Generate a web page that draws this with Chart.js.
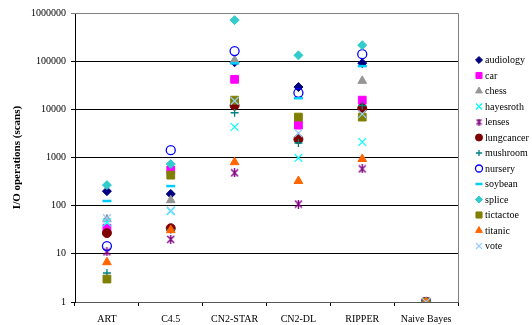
<!DOCTYPE html>
<html>
<head>
<meta charset="utf-8">
<script src="https://cdn.jsdelivr.net/npm/chart.js@4/dist/chart.umd.min.js"></script>
<style>
  html, body { margin: 0; background: #fff; }
</style>
</head>
<body>
<canvas id="scanChart" width="532" height="325"></canvas>
<script>
// I/O cost (number of scans) per algorithm and dataset
const algorithms = ['ART', 'C4.5', 'CN2-STAR', 'CN2-DL', 'RIPPER', 'Naive Bayes'];
const yTicks = [1, 10, 100, 1000, 10000, 100000, 1000000];

const audiology  = [200, 175, 95000, 29000, 91000, 1];
const car        = [34, 550, 42000, 4700, 15500, 1];
const chess      = [52, 130, 105000, 2600, 39000, 1];
const hayesroth  = [45, 77, 4300, 980, 2100, 1];
const lenses     = [11, 20, 480, 108, 580, 1];
const lungcancer = [27, 34, 12000, 2400, 10500, 1];
const mushroom   = [4, 32, 8500, 2000, 12000, 1];
const nursery    = [14.5, 1420, 162000, 22000, 140000, 1];
const soybean    = [125, 255, 90000, 17000, 79000, 1];
const splice     = [267, 730, 710000, 132000, 215000, 1];
const tictactoe  = [3, 430, 15500, 6900, 6900, 1];
const titanic    = [6.7, 31, 800, 325, 930, 1];
const vote       = [55, 80, 15000, 3200, 8000, 1];

// asterisk marker: an X with a vertical stroke
function asterisk(size, color) {
  const c = document.createElement('canvas');
  c.width = size;
  c.height = size;
  const g = c.getContext('2d');
  const m = 1, e = size - 1, h = size / 2;
  g.strokeStyle = color;
  g.lineWidth = 1.4;
  g.beginPath();
  g.moveTo(m, m); g.lineTo(e, e);
  g.moveTo(e, m); g.lineTo(m, e);
  g.moveTo(h, 0); g.lineTo(h, size);
  g.stroke();
  return c;
}

const series = [
  { label: 'audiology',  data: audiology,  color: '#000080', style: 'rectRot',  r: 4.5 },
  { label: 'car',        data: car,        color: '#FF00FF', style: 'rect',     r: 5.5 },
  { label: 'chess',      data: chess,      color: '#969696', style: 'triangle', r: 5 },
  { label: 'hayesroth',  data: hayesroth,  color: '#00FFFF', style: 'crossRot', r: 5.5, bw: 1.2 },
  { label: 'lenses',     data: lenses,     color: '#800080', style: asterisk(9, '#800080'), legendStyle: asterisk(7, '#800080'), r: 4.5 },
  { label: 'lungcancer', data: lungcancer, color: '#800000', style: 'circle',   r: 4.5 },
  { label: 'mushroom',   data: mushroom,   color: '#008080', style: 'cross',    r: 4, bw: 1.3 },
  { label: 'nursery',    data: nursery,    color: '#0000FF', style: 'circle',   r: 4.5, bw: 1.3, hollow: true },
  { label: 'soybean',    data: soybean,    color: '#00CCFF', style: 'line',     r: 4.5, bw: 2.5 },
  { label: 'splice',     data: splice,     color: '#33CCCC', style: 'rectRot',  r: 4.5 },
  { label: 'tictactoe',  data: tictactoe,  color: '#808000', style: 'rect',     r: 5.5 },
  { label: 'titanic',    data: titanic,    color: '#FF6600', style: 'triangle', r: 5 },
  { label: 'vote',       data: vote,       color: '#99CCFF', style: 'crossRot', r: 5.5, bw: 1.2 }
];

const serif = '"Liberation Serif", "Times New Roman", serif';

// later series are painted on top of earlier ones
const datasets = series.map((s, i) => ({
  label: s.label,
  data: s.data,
  showLine: false,
  order: series.length - i,
  pointStyle: s.style,
  legendStyle: s.legendStyle || s.style,
  pointRadius: s.r,
  pointHoverRadius: s.r,
  pointBorderWidth: s.bw || 1,
  borderColor: s.color,
  backgroundColor: s.hollow ? 'rgba(0,0,0,0)' : s.color,
  pointBackgroundColor: s.hollow ? 'rgba(0,0,0,0)' : s.color,
  pointBorderColor: s.color
}));

// gray frame on the top and right of the plot area
const frame = {
  id: 'frame',
  beforeDatasetsDraw(chart) {
    const { ctx, chartArea: a } = chart;
    ctx.save();
    ctx.strokeStyle = '#808080';
    ctx.lineWidth = 1;
    ctx.beginPath();
    ctx.moveTo(a.left, Math.round(a.top) + 0.5);
    ctx.lineTo(Math.round(a.right) + 0.5, Math.round(a.top) + 0.5);
    ctx.lineTo(Math.round(a.right) + 0.5, a.bottom);
    ctx.stroke();
    ctx.restore();
  }
};

// legend column to the right of the plot
const sideLegend = {
  id: 'sideLegend',
  afterDraw(chart) {
    const { ctx, chartArea: a } = chart;
    const x = a.right + 21;
    const y0 = a.top + 47;
    ctx.save();
    ctx.font = '10px ' + serif;
    ctx.textBaseline = 'middle';
    ctx.textAlign = 'left';
    chart.data.datasets.forEach((ds, i) => {
      const y = y0 + i * 15.5;
      ctx.fillStyle = ds.pointBackgroundColor;
      ctx.strokeStyle = ds.pointBorderColor;
      ctx.lineWidth = ds.pointBorderWidth;
      Chart.helpers.drawPoint(ctx, {
        pointStyle: ds.legendStyle,
        radius: ds.pointRadius * 0.78,
        borderWidth: ds.pointBorderWidth,
        rotation: 0
      }, x, y);
      ctx.fillStyle = '#000';
      ctx.fillText(ds.label, x + 6, y + 0.5);
    });
    ctx.restore();
  }
};

new Chart(document.getElementById('scanChart'), {
  type: 'line',
  data: { labels: algorithms, datasets },
  plugins: [frame, sideLegend],
  options: {
    responsive: false,
    animation: false,
    layout: { padding: { left: 8, right: 74, top: 13, bottom: 0 } },
    plugins: {
      legend: { display: false },
      tooltip: { enabled: false }
    },
    scales: {
      x: {
        type: 'category',
        offset: true,
        afterFit: (scale) => { scale.height = 23; },
        grid: {
          offset: true,
          drawOnChartArea: false,
          tickLength: 4,
          color: '#000'
        },
        border: { color: '#555', width: 1 },
        ticks: {
          color: '#000',
          padding: 7,
          maxRotation: 0,
          font: { family: serif, size: 10 }
        }
      },
      y: {
        type: 'logarithmic',
        min: 1,
        max: 1000000,
        afterFit: (scale) => { scale.width = 67; },
        afterBuildTicks: (scale) => {
          scale.ticks = yTicks.map(v => ({ value: v }));
        },
        grid: {
          color: (c) => c.tick && c.tick.value === 1000000 ? '#808080' : '#000',
          lineWidth: 1,
          tickLength: 4
        },
        border: { color: '#000', width: 1 },
        ticks: {
          color: '#000',
          padding: 5,
          font: { family: serif, size: 10 },
          callback: (v) => String(v)
        },
        title: {
          display: true,
          text: 'I/O operations (scans)',
          color: '#000',
          padding: { top: 3, bottom: 0 },
          font: { family: serif, size: 11, weight: 'bold' }
        }
      }
    }
  }
});
</script>
</body>
</html>
